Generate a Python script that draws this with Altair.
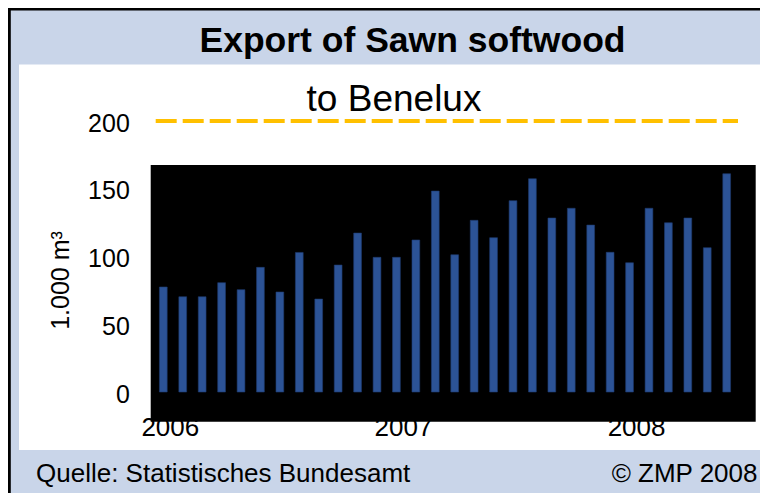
import altair as alt
import pandas as pd

# ---------------- data ----------------
YEARS = ["2006", "2007", "2008"]
MONTHS = ["01", "02", "03", "04", "05", "06", "07", "08", "09", "10", "11", "12"]
VALUES = [
    77.5, 70.3, 70.3, 80.7, 75.5, 92.0, 73.8, 103.0, 68.6, 93.7, 117.3, 99.4,     # 2006
    99.4, 112.2, 148.3, 101.3, 126.7, 113.9, 141.2, 157.4, 128.4, 135.6, 123.2, 103.1,  # 2007
    95.4, 135.6, 124.9, 128.4, 106.5, 161.1,                                       # 2008
]
PERIODS = [f"{y}-{m}" for y in YEARS for m in MONTHS][: len(VALUES)]
YEAR_TICKS = ["2006-01", "2007-01", "2008-01"]
Y_TICKS = [0, 50, 100, 150, 200]
TARGET = [200]

TITLE = "Export of Sawn softwood"
SUBTITLE = "to Benelux"
Y_TITLE = "1.000 m³"
SOURCE = "Quelle: Statistisches Bundesamt"
COPYRIGHT = "© ZMP 2008"

FONT = "Liberation Sans"
BG = "#C9D5E9"
BAR = "#2C5396"

W, H = 741, 385.5

df = pd.DataFrame({"period": PERIODS, "value": VALUES})

y_scale = alt.Scale(domain=[-42.8, 241.7], nice=False, zero=False)
x_scale = alt.Scale(domain=PERIODS, range=[134.6, 717.4], paddingInner=0.6, paddingOuter=0.3)

Y_AXIS = alt.Axis(
    values=Y_TICKS, title=Y_TITLE, grid=False, domain=False, ticks=False, tickSize=0,
    labelPadding=0, labelFont=FONT, labelFontSize=25, labelColor="black", labelOffset=2,
    offset=-110.3,
    titleFont=FONT, titleFontSize=25, titleFontWeight="normal", titleColor="black",
    titleAngle=270, titleX=-69.3, titleY=215.5, titleAlign="center", titleBaseline="middle",
)
X_AXIS = alt.Axis(
    values=YEAR_TICKS, labelExpr="slice(datum.value, 0, 4)", title=None, grid=False,
    domain=False, ticks=False, tickSize=0, labelPadding=0, labelAngle=0,
    labelBaseline="alphabetic", offset=-14.3, labelOffset=7,
    labelFont=FONT, labelFontSize=26, labelColor="black",
)

one = pd.DataFrame({"k": [0]})

border_left = alt.Chart(one).mark_rule(color="black", strokeWidth=3).encode(
    x=alt.value(-9.7), y=alt.value(-57), y2=alt.value(440)
)
border_top = alt.Chart(one).mark_rule(color="black", strokeWidth=3).encode(
    x=alt.value(-11.2), x2=alt.value(760), y=alt.value(-55.5)
)

plot_bg = alt.Chart(one).mark_rect(color="black").encode(
    x=alt.value(131.7), x2=alt.value(736.7), y=alt.value(100.5), y2=alt.value(357.2)
)

rule = alt.Chart(pd.DataFrame({"value": TARGET})).mark_rule(
    color="#FFC000", strokeWidth=4, strokeDash=[21, 6]
).encode(
    y=alt.Y("value:Q", scale=y_scale, axis=Y_AXIS),
    x=alt.value(136.7), x2=alt.value(719),
)

bars = alt.Chart(df).mark_bar(color=BAR, stroke="#1F3A6E", strokeWidth=0.6).encode(
    x=alt.X("period:O", scale=x_scale, axis=X_AXIS, sort=PERIODS),
    y=alt.Y("value:Q", scale=y_scale, axis=Y_AXIS),
)


def text_layer(txt, x, y, size, weight="normal", align="center"):
    return alt.Chart(pd.DataFrame({"t": [txt]})).mark_text(
        align=align, baseline="alphabetic", font=FONT, fontSize=size,
        fontWeight=weight, color="black",
    ).encode(x=alt.value(x), y=alt.value(y), text="t:N")


title = text_layer(TITLE, 393.5, -12.2, 35.5, weight="bold")
subtitle = text_layer(SUBTITLE, 375, 46.2, 37)
source = text_layer(SOURCE, 17, 417.2, 26, align="left")
copyright_ = text_layer(COPYRIGHT, 738.5, 417, 26, align="right")

chart = alt.layer(
    border_left, border_top, plot_bg, rule, bars, title, subtitle, source, copyright_
).properties(
    width=W, height=H,
    autosize=alt.AutoSizeParams(type="none"),
    padding={"left": 11, "top": 56.5, "right": 0, "bottom": 43},
    background=BG,
).configure_view(stroke=None, fill="white")

chart.save("out.html", embed_options={"renderer": "svg", "actions": False})
